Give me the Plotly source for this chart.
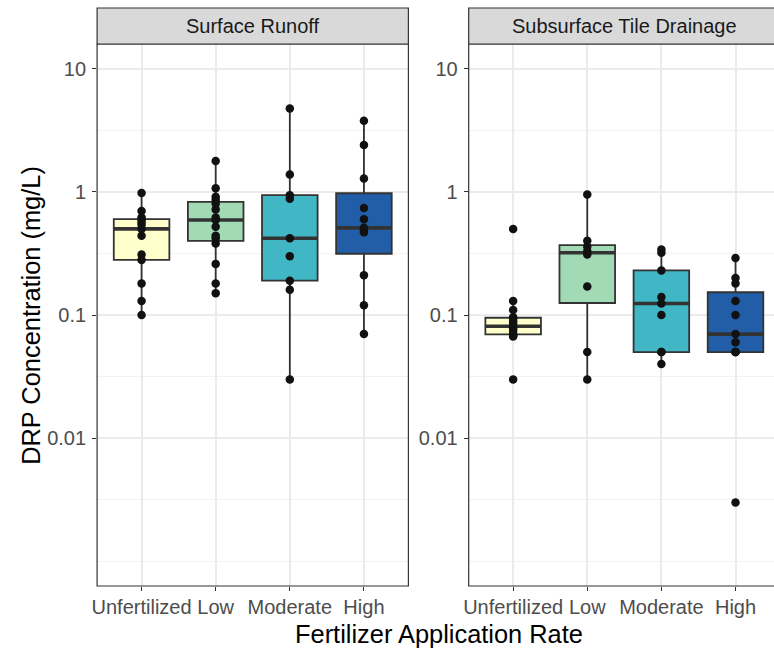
import numpy as np
import plotly.graph_objects as go

# ---- data -------------------------------------------------------------
categories = ["Unfertilized", "Low", "Moderate", "High"]
facets = ["Surface Runoff", "Subsurface Tile Drainage"]
fill_colors = ["#FFFFCC", "#A1DAB4", "#41B6C4", "#225EA8"]

# DRP concentrations (mg/L), surface runoff
surface_unfertilized = [0.10, 0.13, 0.18, 0.28, 0.31, 0.44, 0.50, 0.54, 0.57, 0.60, 0.62, 0.70, 0.98]
surface_low = [0.15, 0.18, 0.26, 0.38, 0.42, 0.44, 0.52, 0.59, 0.62, 0.72, 0.80, 0.86, 0.91, 1.07, 1.78]
surface_moderate = [0.030, 0.16, 0.19, 0.30, 0.42, 0.88, 0.94, 1.38, 4.75]
surface_high = [0.070, 0.12, 0.21, 0.47, 0.49, 0.51, 0.60, 0.74, 1.28, 2.40, 3.78]

# DRP concentrations (mg/L), subsurface tile drainage
tile_unfertilized = [0.030, 0.067, 0.068, 0.069, 0.070, 0.075, 0.078, 0.081, 0.086, 0.090,
                     0.094, 0.096, 0.11, 0.13, 0.50]
tile_low = [0.030, 0.050, 0.17, 0.31, 0.33, 0.36, 0.40, 0.95]
tile_moderate = [0.040, 0.050, 0.050, 0.10, 0.124, 0.14, 0.23, 0.32, 0.34]
tile_high = [0.003, 0.050, 0.050, 0.050, 0.060, 0.070, 0.10, 0.13, 0.18, 0.20, 0.29]

y_tick_vals = [0.01, 0.1, 1, 10]
y_tick_text = ["0.01", "0.1", "1", "10"]
y_minor_vals = [0.001, 10 ** -2.5, 10 ** -1.5, 10 ** -0.5, 10 ** 0.5]

panels = [
    [surface_unfertilized, surface_low, surface_moderate, surface_high],
    [tile_unfertilized, tile_low, tile_moderate, tile_high],
]

# ---- layout geometry (pixels) -------------------------------------------
W, H = 774, 650
FONT = "Liberation Sans, Arial, sans-serif"
TICK_SIZE = 20.0
TITLE_SIZE = 25.4
STEP = 74.6                      # pixels per category
panel_left = [92.7, 466.7]
panel_width = STEP * 4.2
panel_top, panel_bottom = 44.0, 586.0
strip_top = 8.0
BOX_W = 0.75
EDGE = "#333333"


def px_x(p):
    return p / W


def px_y(p):
    return 1 - p / H


def box_stats(values):
    """Tukey box statistics computed on the log10 scale."""
    lv = np.log10(np.asarray(values, dtype=float))
    q1, med, q3 = np.percentile(lv, [25, 50, 75])
    iqr = q3 - q1
    lo = lv[lv >= q1 - 1.5 * iqr].min()
    hi = lv[lv <= q3 + 1.5 * iqr].max()
    return [10 ** v for v in (q1, med, q3, lo, hi)]


fig = go.Figure()

for p, groups in enumerate(panels):
    xa = "x" if p == 0 else "x2"
    ya = "y" if p == 0 else "y2"
    medians = []
    for i, vals in enumerate(groups):
        q1, med, q3, lo, hi = box_stats(vals)
        medians.append(med)
        fig.add_trace(go.Box(
            x=[i], q1=[q1], median=[med], q3=[q3], lowerfence=[lo], upperfence=[hi],
            width=BOX_W, fillcolor=fill_colors[i], whiskerwidth=0, boxpoints=False,
            line=dict(color=EDGE, width=1.8), xaxis=xa, yaxis=ya,
            showlegend=False, hoverinfo="skip",
        ))
    # thicker median bars
    for i, med in enumerate(medians):
        fig.add_trace(go.Scatter(
            x=[i - BOX_W / 2, i + BOX_W / 2], y=[med, med], mode="lines",
            line=dict(color=EDGE, width=3.6), xaxis=xa, yaxis=ya,
            showlegend=False, hoverinfo="skip",
        ))
    # individual observations
    for i, vals in enumerate(groups):
        fig.add_trace(go.Scatter(
            x=[i] * len(vals), y=vals, mode="markers",
            marker=dict(color="#111111", size=8.5), xaxis=xa, yaxis=ya,
            showlegend=False, hoverinfo="skip",
        ))

y_domain = [px_y(panel_bottom), px_y(panel_top)]
common_x = dict(
    tickmode="array", tickvals=[0, 1, 2, 3], ticktext=categories,
    showgrid=True, gridcolor="#EBEBEB", gridwidth=1.6, zeroline=False, showline=False,
    ticks="outside", ticklen=4, tickwidth=1.2, tickcolor=EDGE, ticklabelstandoff=-1,
    tickfont=dict(family=FONT, size=TICK_SIZE, color="#4D4D4D"),
)
common_y = dict(
    type="log", range=[-3.2, 1.2], domain=y_domain,
    tickmode="array", tickvals=y_tick_vals, ticktext=y_tick_text,
    showgrid=True, gridcolor="#EBEBEB", gridwidth=1.6, zeroline=False, showline=False,
    ticks="outside", ticklen=4, tickwidth=1.2, tickcolor=EDGE, ticklabelstandoff=2,
    tickfont=dict(family=FONT, size=TICK_SIZE, color="#4D4D4D"),
    minor=dict(tickmode="array", tickvals=y_minor_vals, showgrid=True,
               gridcolor="#F2F2F2", gridwidth=0.9, ticks=""),
)

x1_dom = [px_x(panel_left[0]), px_x(panel_left[0] + panel_width)]
x2_dom = [px_x(panel_left[1]), 1.0]
x2_right = -0.6 + (W - panel_left[1]) / STEP

fig.update_layout(
    width=W, height=H,
    margin=dict(l=0, r=0, t=0, b=0),
    paper_bgcolor="white", plot_bgcolor="white",
    font=dict(family=FONT),
    xaxis=dict(domain=x1_dom, range=[-0.6, 3.6], anchor="y", **common_x),
    yaxis=dict(anchor="x", **common_y),
    xaxis2=dict(domain=x2_dom, range=[-0.6, x2_right], anchor="y2", **common_x),
    yaxis2=dict(anchor="x2", **common_y),
)

shapes = []
annotations = []
for p, title in enumerate(facets):
    x0 = px_x(panel_left[p])
    x1 = px_x(panel_left[p] + panel_width)
    # panel border
    shapes.append(dict(type="rect", xref="paper", yref="paper", x0=x0, x1=x1,
                       y0=y_domain[0], y1=y_domain[1], line=dict(color=EDGE, width=1.2),
                       fillcolor="rgba(0,0,0,0)", layer="above"))
    # facet strip
    shapes.append(dict(type="rect", xref="paper", yref="paper", x0=x0, x1=x1,
                       y0=px_y(panel_top), y1=px_y(strip_top), line=dict(color=EDGE, width=1.2),
                       fillcolor="#D9D9D9", layer="above"))
    annotations.append(dict(text=title, xref="paper", yref="paper",
                            x=(x0 + x1) / 2, y=px_y((strip_top + panel_top) / 2),
                            xanchor="center", yanchor="middle", showarrow=False,
                            font=dict(family=FONT, size=TICK_SIZE, color="#1A1A1A")))

annotations.append(dict(text="Fertilizer Application Rate", xref="paper", yref="paper",
                        x=px_x((panel_left[0] + panel_left[1] + panel_width) / 2),
                        y=px_y(634), xanchor="center", yanchor="middle", showarrow=False,
                        font=dict(family=FONT, size=TITLE_SIZE, color="#000000")))
annotations.append(dict(text="DRP Concentration (mg/L)", xref="paper", yref="paper",
                        x=px_x(26), y=px_y((panel_top + panel_bottom) / 2), textangle=-90,
                        xanchor="center", yanchor="middle", showarrow=False,
                        font=dict(family=FONT, size=TITLE_SIZE, color="#000000")))

fig.update_layout(shapes=shapes, annotations=annotations)
fig.write_html("out.html")
